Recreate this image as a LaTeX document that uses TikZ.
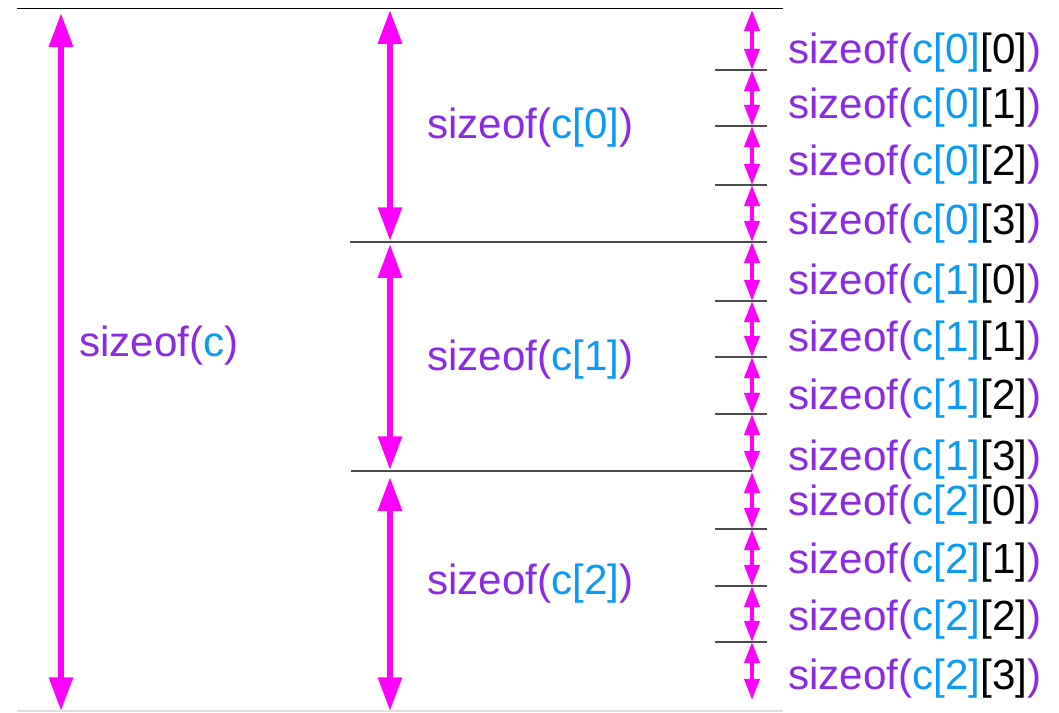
\documentclass[tikz,border=0pt]{standalone}
\usepackage{fontspec}
\setmainfont{Liberation Sans}
\usetikzlibrary{arrows.meta}
\definecolor{szpurple}{RGB}{138,43,226}
\definecolor{szblue}{RGB}{10,155,245}
\definecolor{dimpink}{RGB}{255,0,255}
\newcommand\szof[2]{\textcolor{szpurple}{sizeof(}\textcolor{szblue}{#1}#2\textcolor{szpurple}{)}}
\tikzset{
	bigdim/.style={draw=dimpink, line width=4.3pt, {Triangle[length=24pt,width=16.3pt]}-{Triangle[length=24pt,width=16.3pt]}},
	smalldim/.style={draw=dimpink, line width=2.9pt, {Triangle[length=15pt,width=10.6pt]}-{Triangle[length=15pt,width=10.6pt]}},
	sepline/.style={line width=0.9pt, color=black!70},
	sztext/.style={anchor=west, inner sep=0pt, font=\fontsize{30}{36}\selectfont}
}

\begin{document}
\begin{tikzpicture}[x=0.025cm, y=-0.025cm]
		%%%%% START %%%%%
		\useasboundingbox (0, 0) rectangle (1059, 712);
		
		\draw[line width=0.7pt, color=black] (17, 8) -- (783, 8);
		\draw[sepline] (350, 242) -- (767, 242);
		\draw[sepline] (351, 471) -- (752, 471);
		\draw[line width=1pt, color=black!13] (17, 711) -- (783, 711);
		\foreach \y in {70, 126, 185, 301, 357, 414, 529, 586, 642}
			\draw[sepline] (715, \y) -- (767, \y);
		
		\coordinate (ctop) at (61, 13);
		\coordinate (cbot) at (61, 711);
		\draw[bigdim] (ctop) -- (cbot);
		\node[sztext] (c) at (79, 346) {\szof{c}{}};
		
		\coordinate (r0) at (390, 10);
		\coordinate (r1a) at (390, 241);
		\coordinate (r1b) at (390, 244);
		\coordinate (r2a) at (390, 470);
		\coordinate (r2b) at (390, 477);
		\coordinate (r3) at (390, 711);
		\draw[bigdim] (r0) -- (r1a);
		\draw[bigdim] (r1b) -- (r2a);
		\draw[bigdim] (r2b) -- (r3);
		\node[sztext] (c0) at (427, 128) {\szof{c[0]}{}};
		\node[sztext] (c1) at (427, 360) {\szof{c[1]}{}};
		\node[sztext] (c2) at (427, 584) {\szof{c[2]}{}};
		
		\foreach \y [count=\i from 0] in {10, 70, 126, 185, 242, 301, 357, 414, 472, 529, 586, 642, 700}
			\coordinate (s\i) at (752, \y);
		\foreach \i [evaluate=\i as \j using int(\i+1)] in {0, ..., 11}
			\draw[smalldim] (s\i) -- (s\j);
		
		\foreach \y/\r/\k [count=\n from 0] in {53/0/0, 108/0/1, 165/0/2, 224/0/3, 284/1/0, 341/1/1, 399/1/2, 460/1/3, 505/2/0, 563/2/1, 620/2/2, 679/2/3}
			\node[sztext] (e\n) at (788, \y) {\szof{c[\r]}{[\k]}};
		%%%%% END %%%%%
\end{tikzpicture}
\end{document}
